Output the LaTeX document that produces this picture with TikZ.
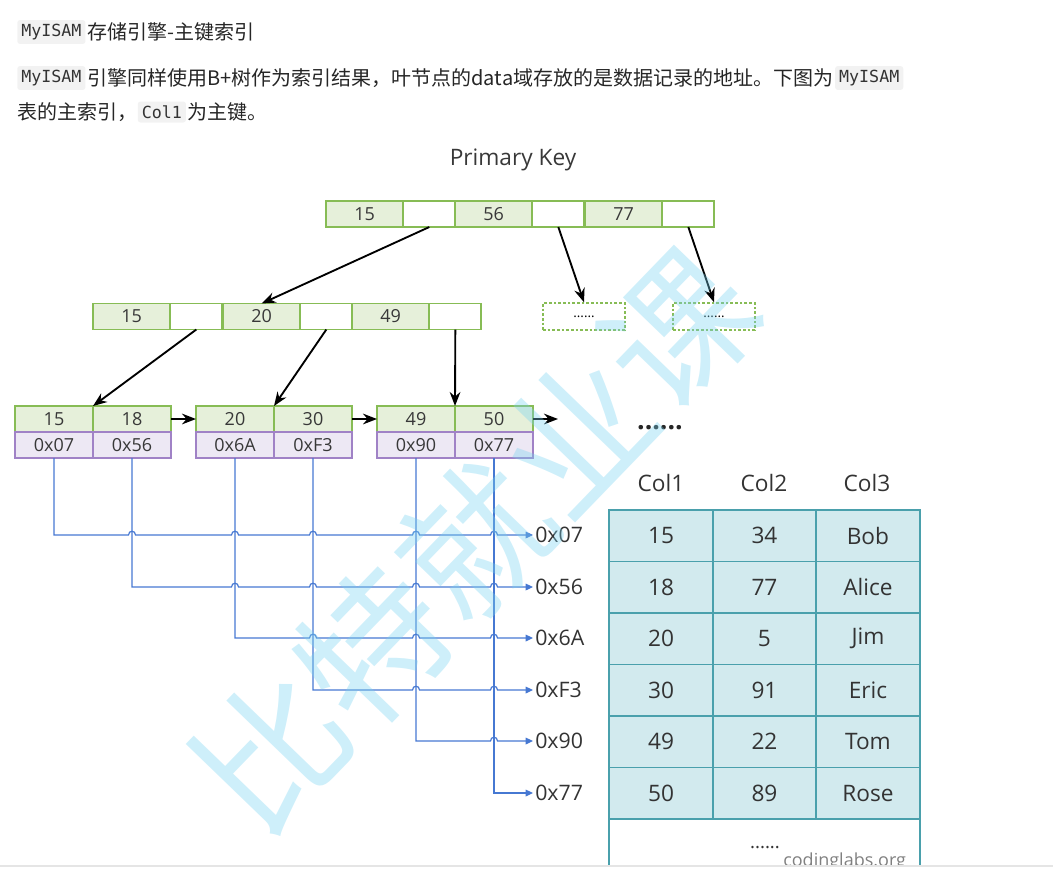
\documentclass[tikz,border=0pt]{standalone}
\usepackage{fontspec}
\setmainfont{Open Sans}
\setmonofont{DejaVu Sans Mono}
\newfontfamily\cjk{Noto Sans CJK SC}
\usetikzlibrary{arrows.meta,positioning,calc}

\definecolor{keyfill}{RGB}{230,240,218}
\definecolor{keyline}{RGB}{135,188,85}
\definecolor{adrfill}{RGB}{237,232,244}
\definecolor{adrline}{RGB}{160,130,198}
\definecolor{ptrblue}{RGB}{70,120,210}
\definecolor{tabfill}{RGB}{210,234,238}
\definecolor{tabline}{RGB}{74,160,172}
\definecolor{codebg}{RGB}{242,242,242}
\definecolor{wmark}{RGB}{120,210,240}

\tikzset{
  keycell/.style={rectangle,draw=keyline,fill=keyfill,line width=1.3pt,outer sep=0pt,
    minimum width=58pt,minimum height=19.5pt,inner sep=0pt,
    font=\fontsize{13.5}{15}\selectfont,text=black!78},
  ptrcell/.style={keycell,fill=white,minimum width=39pt},
  leafkey/.style={keycell,minimum width=58.5pt},
  adrcell/.style={leafkey,draw=adrline,fill=adrfill},
  moredots/.style={rectangle,draw=keyline,dash pattern=on 2pt off 1.5pt,line width=1.3pt,
    minimum width=61.5pt,minimum height=20pt,font=\fontsize{10}{10}\selectfont},
  treearrow/.style={-{Stealth[length=10.5pt,width=8pt]},line width=1.4pt,black},
  ptrline/.style={-{Triangle[length=5.5pt,width=5pt]},ptrblue,line width=0.9pt},
  ptrlabel/.style={anchor=west,inner xsep=1.5pt,inner ysep=0pt,font=\fontsize{16}{18}\selectfont,text=black!80},
  tabcell/.style={rectangle,draw=tabline,fill=tabfill,line width=1.4pt,outer sep=0pt,
    minimum width=77.6pt,minimum height=38.6pt,inner sep=0pt,
    font=\fontsize{17}{19}\selectfont,text=black!80},
  colhead/.style={font=\fontsize{17}{19}\selectfont,text=black!80},
  codebox/.style={rectangle,fill=codebg,rounded corners=2pt,inner xsep=3pt,inner ysep=3pt,
    font=\ttfamily\fontsize{12.5}{14}\selectfont,text=black!80},
  cntext/.style={inner sep=0pt,font=\cjk\fontsize{15}{16}\selectfont,text=black!85},
}

\begin{document}
\begin{tikzpicture}[x=0.75pt,y=-0.75pt]
\useasboundingbox (0,0) rectangle (1053,876);

% heading text
\node[codebox,anchor=west] (code-a) at (17,32) {MyISAM};
\node[cntext,right=1pt of code-a] (line-a) {存储引擎-主键索引};
\node[codebox,anchor=west] (code-b) at (17,78) {MyISAM};
\node[cntext,right=1pt of code-b] (line-b) {引擎同样使用B+树作为索引结果，叶节点的data域存放的是数据记录的地址。下图为};
\node[codebox,right=1pt of line-b] (code-c) {MyISAM};
\node[cntext,anchor=west] (line-c) at (17,112) {表的主索引，};
\node[codebox,right=0pt of line-c] (code-d) {Col1};
\node[cntext,right=1pt of code-d] (line-d) {为主键。};

\node[font=\fontsize{17}{19}\selectfont,text=black!78] (title) at (513,160) {Primary Key};

% root and second level
\foreach \k/\x in {15/326,56/455,77/585}{
  \node[keycell,anchor=north west] (root-\k) at (\x,201) {\k};
  \node[ptrcell,right=0pt of root-\k] (root-p\k) {};
}
\foreach \k/\x in {15/93,20/223,49/352}{
  \node[keycell,anchor=north west] (mid-\k) at (\x,303.5) {\k};
  \node[ptrcell,right=0pt of mid-\k] (mid-p\k) {};
}
\node[moredots] (dots-a) at (584,316.5) {......};
\node[moredots] (dots-b) at (714,316.5) {......};

% leaves
\foreach \ka/\kb/\aa/\ab/\x in {15/18/07/56/15,20/30/6A/F3/196,49/50/90/77/377}{
  \node[leafkey,anchor=north west] (leaf-\ka) at (\x,406) {\ka};
  \node[leafkey,right=0pt of leaf-\ka] (leaf-\kb) {\kb};
  \node[adrcell,below=0pt of leaf-\ka] (adr-\aa) {0x\aa};
  \node[adrcell,below=0pt of leaf-\kb] (adr-\ab) {0x\ab};
}
\coordinate (leaf-next) at (558,419);
\node[font=\bfseries\fontsize{20}{20}\selectfont,text=black!85] (leaf-dots) at (660,428) {......};

\draw[treearrow] (root-p15.south) -- (mid-20.north);
\draw[treearrow] (root-p56.south) -- (dots-a.north);
\draw[treearrow] (root-p77.south) -- (dots-b.north);
\draw[treearrow] (mid-p15.south) -- (leaf-15.north east);
\draw[treearrow] (mid-p20.south) -- (leaf-20.north east);
\draw[treearrow] (mid-p49.south) -- (leaf-49.north east);
\draw[treearrow] (leaf-18.east) -- (leaf-20.west);
\draw[treearrow] (leaf-30.east) -- (leaf-49.west);
\draw[treearrow] (leaf-50.east) -- (leaf-next);

% data pointers, hopping over the lines they cross
\foreach \a/\y/\hops in {07/535/{56,6A,F3,90,77},56/587/{6A,F3,90,77},6A/638/{F3,90,77},F3/690/{90,77},90/741/{77}}{
  \node[ptrlabel] (ptr-\a) at (533,\y) {0x\a};
  \draw[ptrline] (adr-\a.south) -- (adr-\a.south |- ptr-\a.west)
    \foreach \h in \hops {
      -- ($(adr-\h.south |- ptr-\a.west)+(-3.5,0)$)
      .. controls +(0,-5) and +(0,-5) .. ($(adr-\h.south |- ptr-\a.west)+(3.5,0)$)
    } -- (ptr-\a.west);
}
\node[ptrlabel] (ptr-77) at (533,793) {0x77};
\draw[ptrline] (adr-77.south) |- (ptr-77.west);

% table
\foreach \c/\t/\x in {1/Col1/661,2/Col2/764,3/Col3/867}
  \node[colhead] (head-\c) at (\x,483) {\t};
\coordinate (cut) at (0,866);
\begin{scope}
  \clip (0,0) rectangle (1053,866);
  \foreach \a/\b/\c [count=\r] in {15/34/Bob,18/77/Alice,20/5/Jim,30/91/Eric,49/22/Tom,50/89/Rose}{
    \node[tabcell] (tab-\r-1) at (661,{484.25+51.5*\r}) {\a};
    \node[tabcell,right=0pt of tab-\r-1] (tab-\r-2) {\b};
    \node[tabcell,right=0pt of tab-\r-2] (tab-\r-3) {\c};
  }
  \draw[tabline,line width=1.4pt] (tab-6-1.south west) -- (tab-6-1.south west |- cut)
    (tab-6-3.south east) -- (tab-6-3.south east |- cut);
  \node[font=\fontsize{14}{14}\selectfont,text=black!80] (tab-dots) at (765,848) {......};
  \node[anchor=base west,inner sep=0pt,font=\fontsize{13.5}{14}\selectfont,text=black!50] (site) at (783,866) {codinglabs.org};
\end{scope}
\draw[black!10,line width=0.8pt] (cut) -- (1053,866);

% watermark
\node[rotate=46,text=wmark,opacity=0.36,inner sep=0pt,font=\cjk\fontsize{110}{110}\selectfont] (mark) at (475,540) {比特就业课};
\end{tikzpicture}
\end{document}
